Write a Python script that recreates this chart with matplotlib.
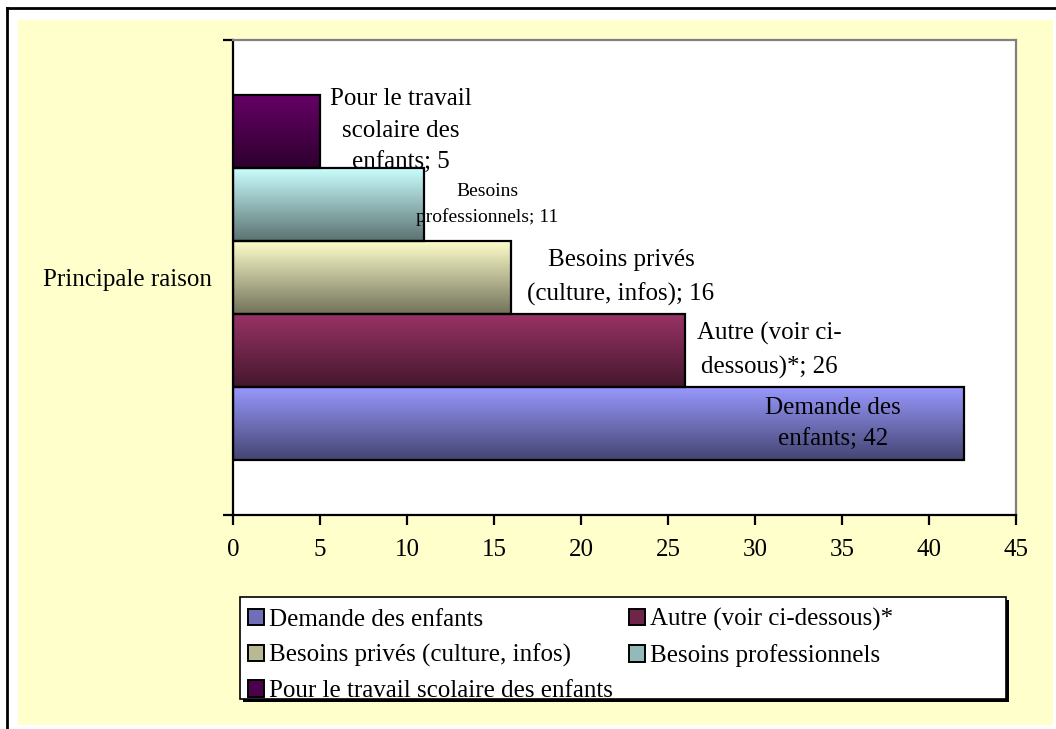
import matplotlib
matplotlib.use("Agg")
import matplotlib.pyplot as plt
import numpy as np
from matplotlib.patches import Rectangle
from matplotlib.lines import Line2D
from matplotlib.colors import to_rgb

plt.rcParams['font.family'] = ['Liberation Serif', 'DejaVu Serif']

# data
categories = ["Demande des enfants", "Autre (voir ci-dessous)*",
              "Besoins privés (culture, infos)", "Besoins professionnels",
              "Pour le travail scolaire des enfants"]
values = [42, 26, 16, 11, 5]
wrapped = ["Demande des\nenfants", "Autre (voir ci-\ndessous)*",
           "Besoins privés\n(culture, infos)", "Besoins\nprofessionnels",
           "Pour le travail\nscolaire des\nenfants"]
axis_label = "Principale raison"
xticks = list(range(0, 50, 5))

# style / layout
top_colors = ["#9999FF", "#993366", "#FFFFCC", "#CCFFFF", "#660066"]
dark = 0.45
label_dx = [-7.5, 4.8, 6.3, 3.6, 4.65]   # label centre offset from bar end (data units)
label_size = [18, 18, 18, 14, 18]

W, H = 1056, 729
fig = plt.figure(figsize=(W / 100, H / 100), dpi=100, facecolor="white")

def fx(px):
    return px / W

def fy(py):
    return 1 - py / H

# yellow chart area and outer frame
fig.patches.append(Rectangle((fx(18), fy(725)), fx(1053 - 18), (725 - 20) / H,
                             transform=fig.transFigure, facecolor="#FFFFCC",
                             edgecolor="none", zorder=-5))
fig.lines.append(Line2D([fx(7), 1], [fy(8), fy(8)], transform=fig.transFigure,
                        color="black", lw=2, zorder=-4))
fig.lines.append(Line2D([fx(7), fx(7)], [fy(8), 0], transform=fig.transFigure,
                        color="black", lw=2, zorder=-4))

ax = fig.add_axes([fx(233), fy(515), fx(1016 - 233), (515 - 40) / H])
ax.set_zorder(2)
ax.set_facecolor("white")

ypos = np.arange(len(values))
margin = 0.745

for i, (v, c) in enumerate(zip(values, top_colors)):
    top = np.array(to_rgb(c))
    bot = top * dark
    t = np.linspace(0, 1, 64)[:, None]
    grad = (top[None, :] * (1 - t) + bot[None, :] * t)[:, None, :]
    rect = ax.barh(ypos[i], v, height=1.0, facecolor="none", edgecolor="black",
                   linewidth=1.6, zorder=3)[0]
    im = ax.imshow(grad, extent=[0, v, i - 0.5, i + 0.5], aspect="auto",
                   origin="upper", zorder=2, interpolation="bilinear")
    im.set_clip_path(rect)
    ax.text(v + label_dx[i], i, f"{wrapped[i]}; {v}", ha="center", va="center",
            fontsize=label_size[i], linespacing=1.6, zorder=4)

ax.set_xlim(0, 45)
ax.set_ylim(-0.5 - margin, len(values) - 0.5 + margin)

ax.set_xticks(xticks)
ax.tick_params(axis="x", direction="out", length=7, width=1.6, labelsize=18, pad=10)
ax.set_yticks([(len(values) - 1) / 2])
ax.set_yticklabels([axis_label])
ax.tick_params(axis="y", which="major", length=0, labelsize=18, pad=15)
ax.set_yticks(list(ax.get_ylim()), minor=True)
ax.tick_params(axis="y", which="minor", direction="out", length=7, width=1.6)

for s in ["left", "bottom"]:
    ax.spines[s].set_color("black")
    ax.spines[s].set_linewidth(1.6)
for s in ["top", "right"]:
    ax.spines[s].set_color("#808080")
    ax.spines[s].set_linewidth(1.6)

# legend frame with shadow
lx0, ly0, lx1, ly1 = 240, 597, 1006, 699
fig.patches.append(Rectangle((fx(lx0 + 3), fy(ly1 + 3)), fx(lx1 - lx0), (ly1 - ly0) / H,
                             transform=fig.transFigure, facecolor="black",
                             edgecolor="none", zorder=-3))
fig.patches.append(Rectangle((fx(lx0), fy(ly1)), fx(lx1 - lx0), (ly1 - ly0) / H,
                             transform=fig.transFigure, facecolor="white",
                             edgecolor="black", lw=1.2, zorder=-2))

handles = []
for c in top_colors:
    mid = np.array(to_rgb(c)) * (1 + dark) / 2
    handles.append(Rectangle((0, 0), 1, 1, facecolor=mid, edgecolor="black", lw=1.4))
order = [0, 2, 4, 1, 3]
leg = fig.legend([handles[k] for k in order], [categories[k] for k in order],
                 loc="upper left", bbox_to_anchor=(fx(248), fy(608)), ncol=2,
                 frameon=False, fontsize=18, handlelength=0.64, handleheight=0.64,
                 handletextpad=0.2, columnspacing=0.65, labelspacing=0.52,
                 borderaxespad=0, borderpad=0)
leg.set_zorder(5)

fig.savefig("out.png", dpi=100, facecolor="white")
